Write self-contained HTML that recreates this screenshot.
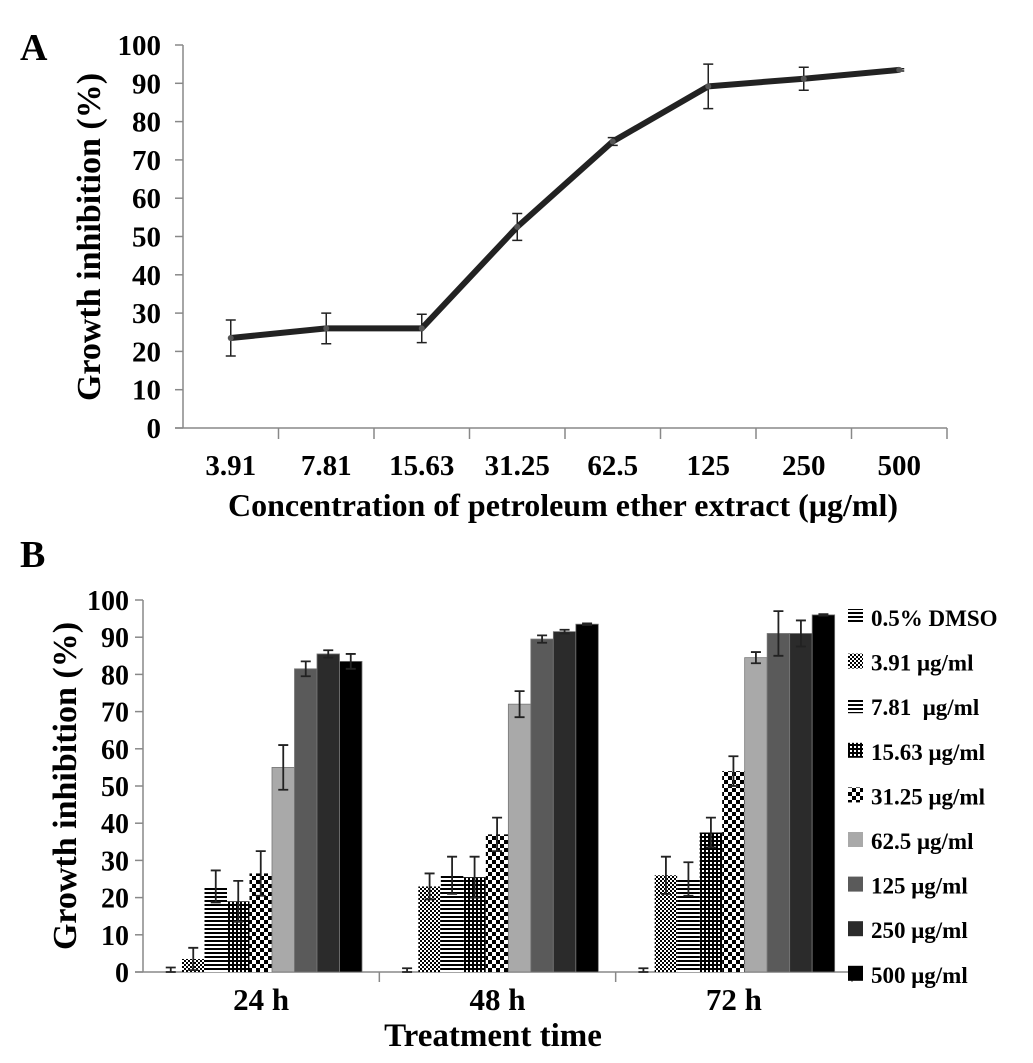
<!DOCTYPE html>
<html><head><meta charset="utf-8">
<style>
body{margin:0;background:#fff;}
svg{display:block;font-family:"Liberation Serif",serif;font-weight:bold;}
</style></head>
<body>
<svg id="fig" width="1033" height="1063" viewBox="0 0 1033 1063">
<defs>
<pattern id="p-hlines" width="6" height="4" patternUnits="userSpaceOnUse"><rect width="6" height="4" fill="#fff"/><rect width="6" height="2" fill="#000"/></pattern>
<pattern id="p-fine" width="4" height="4" patternUnits="userSpaceOnUse"><rect width="4" height="4" fill="#fff"/><rect width="2" height="2" fill="#000"/><rect x="2" y="2" width="2" height="2" fill="#000"/></pattern>
<pattern id="p-grid" width="4" height="4" patternUnits="userSpaceOnUse"><rect width="4" height="4" fill="#fff"/><rect width="4" height="2" fill="#000"/><rect width="2" height="4" fill="#000"/></pattern>
<pattern id="p-check" width="8" height="8" patternUnits="userSpaceOnUse"><rect width="8" height="8" fill="#fff"/><rect width="4" height="4" fill="#000"/><rect x="4" y="4" width="4" height="4" fill="#000"/></pattern>
</defs>
<text x="20" y="60" font-size="38">A</text>
<text x="20" y="567" font-size="38">B</text>
<g id="chartA"></g>
<g id="chartB"></g>
</svg>
<script>
const NS="http://www.w3.org/2000/svg";
function mk(parent,tag,attrs){const e=document.createElementNS(NS,tag);for(const k in attrs)e.setAttribute(k,attrs[k]);parent.appendChild(e);return e;}

// ---- Panel A data ----
const aCategories=["3.91","7.81","15.63","31.25","62.5","125","250","500"];
const aValues=[23.5,26,26,52.5,74.8,89.2,91.2,93.5];
const aErrors=[4.7,4,3.7,3.5,1,5.8,3,0.3];
const aTicks=[0,10,20,30,40,50,60,70,80,90,100];

// ---- Panel B data ----
const bGroups=["24 h","48 h","72 h"];
const bSeries=["0.5% DMSO","3.91 μg/ml","7.81  μg/ml","15.63 μg/ml","31.25 μg/ml","62.5 μg/ml","125 μg/ml","250 μg/ml","500 μg/ml"];
const b24=[0,3.5,23,19,26.5,55,81.5,85.5,83.5];
const b48=[0,23,26,25.5,37,72,89.5,91.5,93.5];
const b72=[0,26,25,37.5,54,84.5,91,91,96];
const e24=[1.2,3,4.3,5.5,6,6,2,1,2];
const e48=[1,3.5,5,5.5,4.5,3.5,1,0.5,0.2];
const e72=[1,5,4.5,4,4,1.5,6,3.5,0.2];
const bTicks=[0,10,20,30,40,50,60,70,80,90,100];
const bFills=["url(#p-hlines)","url(#p-fine)","url(#p-hlines)","url(#p-grid)","url(#p-check)","#a9a9a9","#5a5a5a","#2b2b2b","#000"];

// ---- Panel A ----
(function(){
const g=document.getElementById('chartA');
const x0=183,x1=947,y0=428,yTop=45;
const yA=v=>y0-(v/100)*(y0-yTop);
const bw=(x1-x0)/aCategories.length;
const xA=i=>x0+bw*(i+0.5);
let ax=mk(g,'line',{x1:x0,y1:yTop,x2:x0,y2:y0,stroke:'#888','stroke-width':1.5});

let bx=mk(g,'line',{x1:x0-8,y1:y0,x2:x1,y2:y0,stroke:'#888','stroke-width':1.5});

aTicks.forEach(t=>{
 mk(g,'line',{x1:x0-8,y1:yA(t),x2:x0,y2:yA(t),stroke:'#888','stroke-width':1.5});
 const tx=mk(g,'text',{x:161,y:yA(t)+10,'font-size':29,'text-anchor':'end'});tx.textContent=t;
 
});
aCategories.forEach((c,i)=>{
 const xt=x0+bw*(i+1);
 mk(g,'line',{x1:xt,y1:y0,x2:xt,y2:y0+11,stroke:'#888','stroke-width':1.5});
 const tx=mk(g,'text',{x:xA(i),y:475,'font-size':29,'text-anchor':'middle'});tx.textContent=c;
 
});
const pts=aValues.map((v,i)=>xA(i)+','+yA(v)).join(' ');
const line=mk(g,'polyline',{points:pts,fill:'none',stroke:'#222','stroke-width':6,'stroke-linejoin':'round'});

aValues.forEach((v,i)=>{
 const x=xA(i),e=aErrors[i];
 const eb=mk(g,'path',{d:`M${x},${yA(v+e)}V${yA(v-e)}M${x-5},${yA(v+e)}H${x+5}M${x-5},${yA(v-e)}H${x+5}`,stroke:'#222','stroke-width':1.5,fill:'none'});
 
 const p=mk(g,'circle',{cx:x,cy:yA(v),r:3,fill:'#555'});
 
});
const yt=mk(g,'text',{x:0,y:0,'font-size':34,'text-anchor':'middle',transform:'translate(100,237) rotate(-90)'});yt.textContent='Growth inhibition (%)';

const xt=mk(g,'text',{x:563,y:516,'font-size':32,'text-anchor':'middle'});xt.textContent='Concentration of petroleum ether extract (μg/ml)';

})();

// ---- Panel B ----
(function(){
const g=document.getElementById('chartB');
const x0=143,x1=852,y0=972,yTop=600;
const yB=v=>y0-(v/100)*(y0-yTop);
const gw=(x1-x0)/bGroups.length;
const barW=22.5,pad=16.5;
let ax=mk(g,'line',{x1:x0,y1:yTop,x2:x0,y2:y0,stroke:'#888','stroke-width':1.5});

let bx=mk(g,'line',{x1:x0-8,y1:y0,x2:x1,y2:y0,stroke:'#888','stroke-width':1.5});

bTicks.forEach(t=>{
 mk(g,'line',{x1:x0-8,y1:yB(t),x2:x0,y2:yB(t),stroke:'#888','stroke-width':1.5});
 const tx=mk(g,'text',{x:129,y:yB(t)+10,'font-size':28,'text-anchor':'end'});tx.textContent=t;
 
});
const data=[b24,b48,b72],errs=[e24,e48,e72];
bGroups.forEach((gname,gi)=>{
 const gx=x0+gw*gi;
 mk(g,'line',{x1:gx+gw,y1:y0,x2:gx+gw,y2:y0+10,stroke:'#888','stroke-width':1.5});
 const tx=mk(g,'text',{x:gx+gw/2,y:1010,'font-size':31,'text-anchor':'middle'});tx.textContent=gname;
 
 data[gi].forEach((v,si)=>{
  const bx0=gx+pad+si*barW;
  if(v>0){
   const r=mk(g,'rect',{x:bx0,y:yB(v),width:barW,height:yB(0)-yB(v),fill:bFills[si],stroke:si>=5?'#777':'none','stroke-width':0.8});
   
  }
  const e=errs[gi][si],cx=bx0+barW/2;
  const lo=Math.max(0,v-e);
  const eb=mk(g,'path',{d:`M${cx},${yB(v+e)}V${yB(lo)}M${cx-5},${yB(v+e)}H${cx+5}M${cx-5},${yB(lo)}H${cx+5}`,stroke:'#222','stroke-width':1.8,fill:'none'});
  
 });
});
bSeries.forEach((s,si)=>{
 const y=617+si*44.6;
 const sw=mk(g,'rect',{x:848,y:y-8,width:15,height:15,fill:bFills[si]});
 
 const tx=mk(g,'text',{x:871,y:y+9,'font-size':23});tx.textContent=s;
 tx.style.whiteSpace='pre';
 
});
const yt=mk(g,'text',{x:0,y:0,'font-size':34,'text-anchor':'middle',transform:'translate(76,786) rotate(-90)'});yt.textContent='Growth inhibition (%)';

const xt=mk(g,'text',{x:493,y:1046,'font-size':33,'text-anchor':'middle'});xt.textContent='Treatment time';

})();
</script>
</body></html>
